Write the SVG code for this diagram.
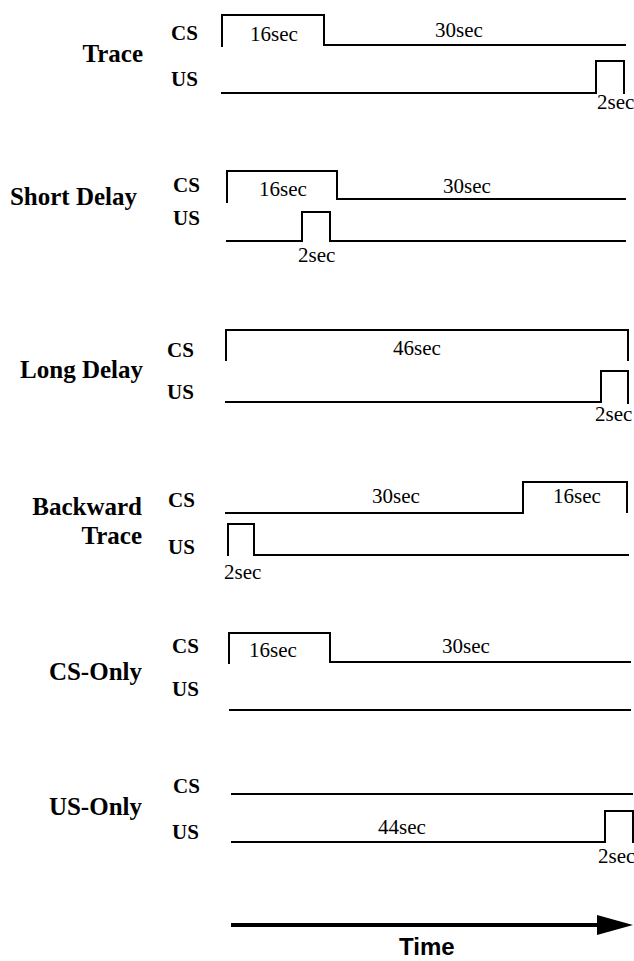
<svg xmlns="http://www.w3.org/2000/svg" width="634" height="961" viewBox="0 0 634 961">
<style>
.sig{fill:none;stroke:#000;stroke-width:2;stroke-linejoin:miter;stroke-linecap:square}
.title{font-family:"Liberation Serif","Times New Roman",serif;font-weight:bold;font-size:25px;fill:#000;text-anchor:end}
.ch{font-family:"Liberation Serif","Times New Roman",serif;font-weight:bold;font-size:21px;fill:#000}
.dur{font-family:"Liberation Serif","Times New Roman",serif;font-size:21px;fill:#000}
.axis{font-family:"Liberation Sans",Arial,sans-serif;font-weight:bold;font-size:24px;fill:#000}
</style>
<defs>
<marker id="ah" markerWidth="9" markerHeight="5" refX="0" refY="2.5" orient="auto" markerUnits="strokeWidth">
<path d="M0,0 L9,2.5 L0,5 Z" fill="#000"/>
</marker>
</defs>
<rect width="634" height="961" fill="#fff"/>

<g id="trace">
<text class="title" x="143" y="62">Trace</text>
<text class="ch" x="171" y="40">CS</text>
<text class="ch" x="171" y="86">US</text>
<path class="sig" d="M222,46 V15 H324 V45 H625"/>
<path class="sig" d="M222,93 H596 V61 H624 V93"/>
<text class="dur" x="250" y="41">16sec</text>
<text class="dur" x="435" y="37">30sec</text>
<text class="dur" x="597" y="109">2sec</text>
</g>

<g id="short-delay">
<text class="title" x="137" y="205">Short Delay</text>
<text class="ch" x="173" y="192">CS</text>
<text class="ch" x="173" y="225">US</text>
<path class="sig" d="M227,202 V171 H337 V199 H625"/>
<path class="sig" d="M227,241 H302 V212 H330 V241 H625"/>
<text class="dur" x="259" y="196">16sec</text>
<text class="dur" x="443" y="193">30sec</text>
<text class="dur" x="298" y="262">2sec</text>
</g>

<g id="long-delay">
<text class="title" x="143" y="378">Long Delay</text>
<text class="ch" x="167" y="357">CS</text>
<text class="ch" x="167" y="399">US</text>
<path class="sig" d="M226,360 V330 H628 V360"/>
<path class="sig" d="M226,402 H601 V371 H628 V403"/>
<text class="dur" x="393" y="355">46sec</text>
<text class="dur" x="595" y="421">2sec</text>
</g>

<g id="backward-trace">
<text class="title" x="142" y="515">Backward</text>
<text class="title" x="142" y="544">Trace</text>
<text class="ch" x="168" y="507">CS</text>
<text class="ch" x="168" y="554">US</text>
<path class="sig" d="M226,513 H523 V482 H627 V512"/>
<path class="sig" d="M228,555 V524 H254 V555 H628"/>
<text class="dur" x="372" y="503">30sec</text>
<text class="dur" x="553" y="503">16sec</text>
<text class="dur" x="224" y="579">2sec</text>
</g>

<g id="cs-only">
<text class="title" x="142" y="680">CS-Only</text>
<text class="ch" x="172" y="653">CS</text>
<text class="ch" x="172" y="696">US</text>
<path class="sig" d="M229,663 V633 H330 V662 H630"/>
<path class="sig" d="M230,710 H630"/>
<text class="dur" x="249" y="657">16sec</text>
<text class="dur" x="442" y="653">30sec</text>
</g>

<g id="us-only">
<text class="title" x="142" y="815">US-Only</text>
<text class="ch" x="173" y="793">CS</text>
<text class="ch" x="172" y="839">US</text>
<path class="sig" d="M232,794 H632"/>
<path class="sig" d="M232,842 H605 V811 H633 V842"/>
<text class="dur" x="378" y="834">44sec</text>
<text class="dur" x="598" y="863">2sec</text>
</g>

<g id="connectors">
<path d="M231,925 H597" fill="none" stroke="#000" stroke-width="4" marker-end="url(#ah)"/>
</g>
<g id="time-axis">
<text class="axis" x="399" y="955">Time</text>
</g>
</svg>
